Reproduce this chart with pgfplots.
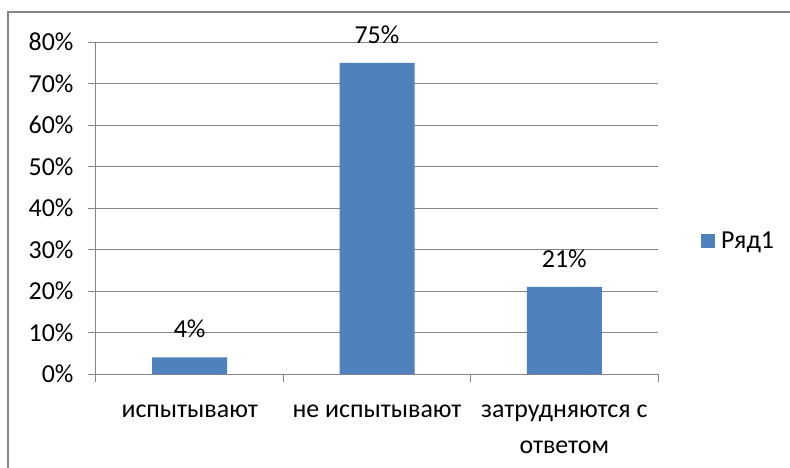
\documentclass[border=0pt]{standalone}
\usepackage{pgfplots}
\pgfplotsset{compat=1.18}
\usepackage{fontspec}
\setmainfont{Carlito}
\definecolor{barblue}{HTML}{4F81BD}
\definecolor{gridgray}{HTML}{868686}
\begin{document}
\begin{tikzpicture}
\useasboundingbox (-96bp,-94bp) rectangle (694bp,374bp);
\draw[gridgray, line width=1.2bp] (-88bp,-100bp) -- (-88bp,362bp) -- (700bp,362bp);
\begin{axis}[
  at={(0,0)}, anchor=south west,
  scale only axis, width=562bp, height=332bp,
  xmin=-0.5, xmax=2.5, ymin=0, ymax=80,
  axis lines=left, axis line style={-, gridgray, line width=1bp},
  ytick={0,10,...,80},
  yticklabels={0\%,10\%,20\%,30\%,40\%,50\%,60\%,70\%,80\%},
  xtick={-0.5,0.5,1.5,2.5},
  x tick label as interval,
  xticklabels={испытывают, не испытывают, {затрудняются с\\ответом}},
  xticklabel style={align=center, yshift=-19bp},
  yticklabel style={xshift=-11bp},
  tick align=outside, major tick length=8bp,
  tick style={gridgray, line width=1bp},
  ymajorgrids, major grid style={gridgray, line width=1bp},
  ticklabel style={font=\fontsize{26}{37}\selectfont},
  /pgf/number format/assume math mode=true,
  nodes near coords={\pgfmathprintnumber{\pgfplotspointmeta}\%},
  nodes near coords style={font=\fontsize{26}{30}\selectfont, yshift=16bp},
  legend style={draw=none, at={(1.071,0.40)}, anchor=west, font=\fontsize{26}{30}\selectfont,
    /tikz/every even column/.append style={column sep=0bp}},
  legend image code/.code={\fill[barblue] (-2bp,-7bp) rectangle (12bp,7bp);},
]
\addplot[ybar, bar width=75bp, fill=barblue, draw=none] coordinates {(0,4) (1,75) (2,21)};
\addlegendentry{\hspace{4bp}Ряд1}
\end{axis}
\end{tikzpicture}
\end{document}
